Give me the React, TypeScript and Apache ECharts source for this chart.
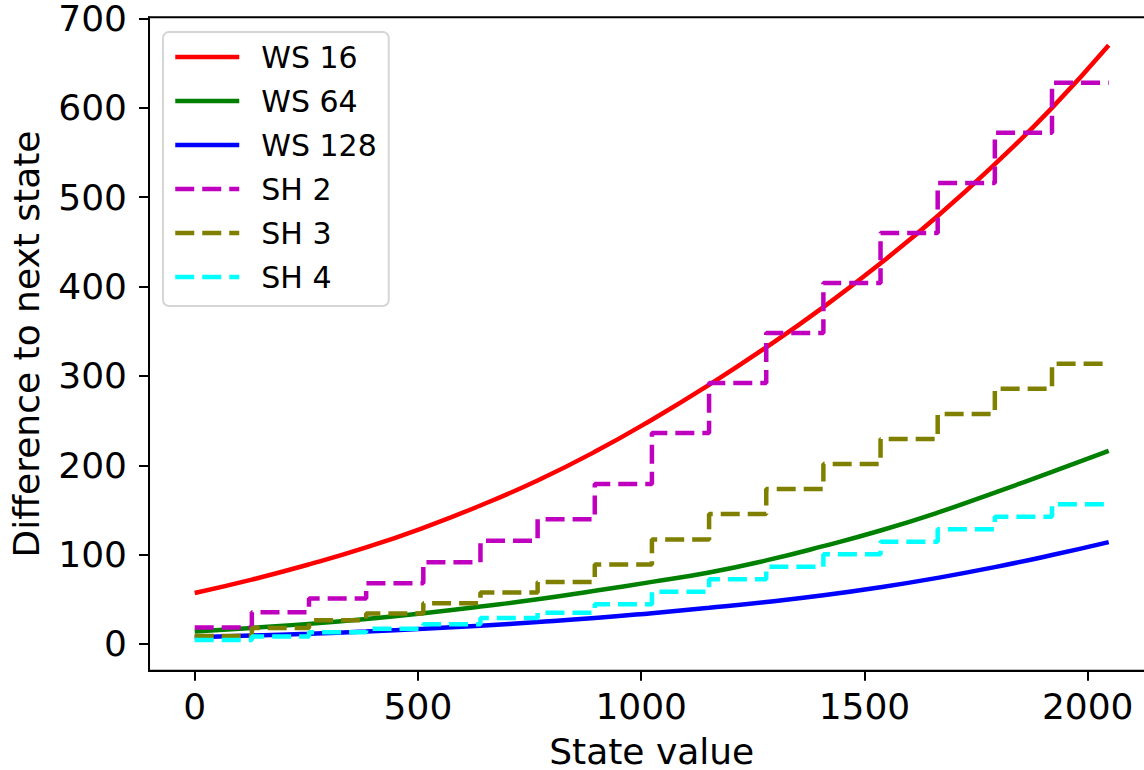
import React, { useEffect, useRef } from "react";
import * as echarts from "echarts";

// Sample positions for the smooth window-size curves
const wsX = [0, 128, 256, 384, 512, 640, 768, 896, 1024, 1152, 1280, 1408, 1536, 1664, 1792, 1920, 2047];
const ws16 = [57, 72, 89, 108, 130, 155, 183, 215, 251, 290, 332, 377, 426, 479, 537, 600, 670];
const ws64 = [14, 18, 22.5, 28, 34.5, 42, 50, 59.5, 69.5, 80, 93.5, 109.5, 127, 147, 169.5, 192.5, 216];
const ws128 = [7.5, 9.5, 11.5, 14, 17, 20.5, 24.5, 29, 34.5, 40.5, 47, 54.5, 63.5, 74, 86, 99.5, 114];

// Step starts for the shift series (each step holds until the next start; last ends at 2047)
const stepX = [0, 128, 256, 384, 512, 640, 768, 896, 1024, 1152, 1280, 1408, 1536, 1664, 1792, 1920];
const stepEnd = 2047;
const sh2 = [18.5, 35.5, 51, 68, 91.5, 115.5, 139.5, 179, 236, 292, 348, 404, 460, 516, 572, 628];
const sh3 = [9, 18, 26.5, 34, 45.5, 57.5, 69.5, 89, 117, 145.5, 173.5, 201.5, 229.5, 257.5, 285.5, 313.5];
const sh4 = [4.5, 8.5, 13, 17, 22, 29, 35, 44.5, 58.5, 72.5, 86.5, 100.5, 114.5, 128.5, 142.5, 156.5];

const xTicks = [0, 500, 1000, 1500, 2000];
const yTicks = [0, 100, 200, 300, 400, 500, 600, 700];

const FONT = "DejaVu Sans";

function pairs(xs: number[], ys: number[]) {
  return xs.map((x, i) => [x, ys[i]]);
}
function stepPairs(xs: number[], ys: number[]) {
  const d = xs.map((x, i) => [x, ys[i]]);
  d.push([stepEnd, ys[ys.length - 1]]);
  return d;
}

export default function App() {
  const ref = useRef<HTMLDivElement>(null);
  useEffect(() => {
    if (!ref.current) return;
    const chart = echarts.init(ref.current, undefined, { renderer: "svg" });
    const solid = (name: string, color: string, ys: number[]) => ({
      name,
      type: "line",
      data: pairs(wsX, ys),
      smooth: true,
      symbol: "none",
      lineStyle: { color, width: 4.5, type: "solid" },
      itemStyle: { color },
    });
    const dashed = (name: string, color: string, ys: number[]) => ({
      name,
      type: "line",
      data: stepPairs(stepX, ys),
      step: "end",
      symbol: "none",
      lineStyle: { color, width: 4.5, type: [19, 8] },
      itemStyle: { color },
    });
    chart.setOption({
      animation: false,
      backgroundColor: "#ffffff",
      grid: {
        left: 149,
        top: 17.3,
        width: 1005.4,
        height: 653.4,
        containLabel: false,
        outerBoundsMode: "none",
        show: true,
        borderColor: "#000000",
        borderWidth: 2,
        backgroundColor: "transparent",
      },
      legend: {
        orient: "vertical",
        left: 163,
        top: 32,
        padding: [10, 12, 14, 10],
        itemWidth: 64,
        itemHeight: 14,
        itemGap: 14,
        backgroundColor: "#ffffff",
        borderColor: "#d6d6d6",
        borderWidth: 2,
        borderRadius: 6,
        itemStyle: { opacity: 0 },
        lineStyle: { width: 4.5 },
        textStyle: {
          fontFamily: FONT,
          fontSize: 30,
          lineHeight: 30,
          color: "#000000",
          padding: [0, 0, 0, 17],
        },
        data: ["WS 16", "WS 64", "WS 128", "SH 2", "SH 3", "SH 4"],
      },
      xAxis: {
        type: "value",
        min: -102.35,
        max: 2149.35,
        name: "State value",
        nameLocation: "middle",
        nameGap: 66,
        nameTextStyle: { fontFamily: FONT, fontSize: 36, lineHeight: 30, color: "#000000" },
        axisLine: { show: true, onZero: false, lineStyle: { color: "#000000", width: 2 } },
        axisTick: { show: true, length: 10, lineStyle: { color: "#000000", width: 2 }, customValues: xTicks },
        axisLabel: {
          fontFamily: FONT,
          fontSize: 36,
          color: "#000000",
          margin: 18,
          customValues: xTicks,
          formatter: (v: number) => String(v),
        },
        splitLine: { show: false },
      },
      yAxis: {
        type: "value",
        min: -29.9,
        max: 701.3,
        name: "Difference to next state",
        nameLocation: "middle",
        nameRotate: 90,
        nameGap: 105,
        nameTextStyle: { fontFamily: FONT, fontSize: 36, color: "#000000" },
        axisLine: { show: true, onZero: false, lineStyle: { color: "#000000", width: 2 } },
        axisTick: { show: true, length: 10, lineStyle: { color: "#000000", width: 2 }, customValues: yTicks },
        axisLabel: {
          fontFamily: FONT,
          fontSize: 36,
          lineHeight: 30,
          color: "#000000",
          margin: 22,
          customValues: yTicks,
          formatter: (v: number) => String(v),
        },
        splitLine: { show: false },
      },
      series: [
        solid("WS 16", "#ff0000", ws16),
        solid("WS 64", "#008000", ws64),
        solid("WS 128", "#0000ff", ws128),
        dashed("SH 2", "#bf00bf", sh2),
        dashed("SH 3", "#808000", sh3),
        dashed("SH 4", "#00ffff", sh4),
      ],
    });
    return () => chart.dispose();
  }, []);
  return (
    <div
      ref={ref}
      style={{ position: "absolute", left: 0, top: 0, width: 1144, height: 770, background: "#fff" }}
    />
  );
}
